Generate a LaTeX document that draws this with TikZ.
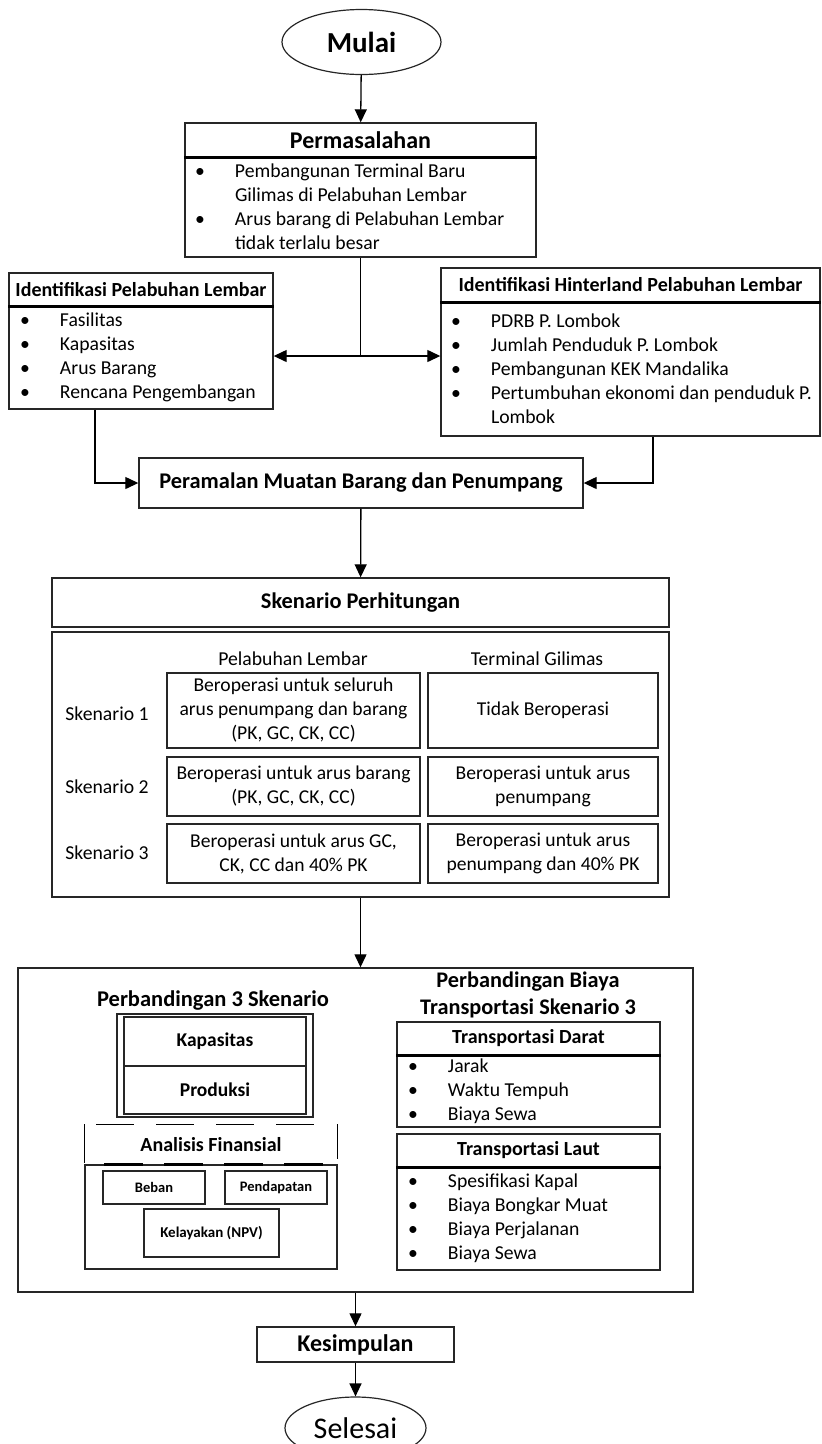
\documentclass[tikz,border=0pt]{standalone}
\usepackage{fontspec}
\setmainfont{Carlito}
\usetikzlibrary{shapes.geometric,arrows.meta,calc,positioning}

\newcommand{\itm}[1]{\makebox[40pt][l]{\textbullet}#1}
\newcommand{\cnt}[1]{\hspace*{40pt}#1}

\begin{document}
\begin{tikzpicture}[%
x=1pt, y=-1pt,
>={Triangle[width=12pt,length=13pt]},
line width=1.4pt,
box/.style={draw=black!85, rectangle, inner sep=0pt, align=center},
hdr/.style={box, font=\fontsize{22.4}{26}\selectfont\bfseries},
smallhdr/.style={box, font=\fontsize{20}{24}\selectfont\bfseries},
cell/.style={box, font=\fontsize{19.6}{24}\selectfont},
tinybox/.style={box, line width=1.2pt, font=\fontsize{14.5}{16}\selectfont\bfseries},
txt/.style={inner sep=0pt, align=center, font=\fontsize{19.7}{24}\selectfont},
items/.style={inner sep=0pt, align=left, anchor=west, font=\fontsize{19.7}{24}\selectfont},
term/.style={ellipse, draw=black!85, line width=1.2pt, inner sep=0pt},
divline/.style={line width=3pt, black},
conn/.style={->, line width=1.3pt}
]
\useasboundingbox (0,0) rectangle (822,1444);

% start + problem
\node[term, minimum width=159pt, minimum height=65pt, font=\fontsize{29}{30}\selectfont\bfseries] (mulai) at (361.5,42) {Mulai};
\node[hdr, minimum width=351pt, minimum height=34pt, font=\fontsize{24}{26}\selectfont\bfseries] (permhead) at (360.5,140) {Permasalahan};
\node[box, minimum width=351pt, minimum height=100pt] (permbody) at (360.5,207) {};
\node[items] (permitems) at ([xshift=10pt]permbody.west) {\itm{Pembangunan Terminal Baru}\\ \cnt{Gilimas di Pelabuhan Lembar}\\ \itm{Arus barang di Pelabuhan Lembar}\\ \cnt{tidak terlalu besar}};
\draw[divline] (permhead.south west) -- (permhead.south east);

% identification boxes
\node[smallhdr, minimum width=264pt, minimum height=33pt] (idlhead) at (141,289.5) {Identifikasi Pelabuhan Lembar};
\node[box, minimum width=264pt, minimum height=103pt] (idlbody) at (141,357.5) {};
\node[items] (idlitems) at ([xshift=11pt]idlbody.west) {\itm{Fasilitas}\\ \itm{Kapasitas}\\ \itm{Arus Barang}\\ \itm{Rencana Pengembangan}};
\draw[divline] (idlhead.south west) -- (idlhead.south east);

\node[smallhdr, minimum width=379pt, minimum height=34pt] (idhhead) at (630.5,285) {Identifikasi Hinterland Pelabuhan Lembar};
\node[box, minimum width=379pt, minimum height=134pt] (idhbody) at (630.5,369) {};
\node[items] (idhitems) at ([xshift=10pt]idhbody.west) {\itm{PDRB P. Lombok}\\ \itm{Jumlah Penduduk P. Lombok}\\ \itm{Pembangunan KEK Mandalika}\\ \itm{Pertumbuhan ekonomi dan penduduk P.}\\ \cnt{Lombok}};
\draw[divline] (idhhead.south west) -- (idhhead.south east);

\coordinate (split) at (360.5,356);
\draw[conn] (mulai) -- (permhead);
\draw[line width=1.3pt] (permbody.south) -- (split);
\draw[conn] (split) -- (split -| idlbody.east);
\draw[conn] (split) -- (split -| idhbody.west);

% forecast
\node[hdr, minimum width=444pt, minimum height=50pt] (peramalan) at (361,483) {Peramalan Muatan Barang dan Penumpang};
\draw[conn] ([xshift=-46pt]idlbody.south) |- (peramalan.west);
\draw[conn] ([xshift=22.5pt]idhbody.south) |- (peramalan.east);

% scenarios
\node[hdr, minimum width=617pt, minimum height=49pt] (skenhead) at (360.5,602.5) {Skenario Perhitungan};
\node[box, minimum width=617pt, minimum height=265pt] (skenbody) at (360.5,764.5) {};
\draw[conn] (peramalan) -- (skenhead);

\node[txt] (pelab) at (293,659) {Pelabuhan Lembar};
\node[txt] (termg) at (537,659) {Terminal Gilimas};
\node[txt] (sk1) at (107,714) {Skenario 1};
\node[txt] (sk2) at (107,787) {Skenario 2};
\node[txt] (sk3) at (107,853) {Skenario 3};

\node[cell, minimum width=253pt, minimum height=75pt] (l1) at (293.5,710.5) {Beroperasi untuk seluruh\\arus penumpang dan barang\\(PK, GC, CK, CC)};
\node[cell, minimum width=253pt, minimum height=59pt] (l2) at (293.5,786.5) {Beroperasi untuk arus barang\\(PK, GC, CK, CC)};
\node[cell, minimum width=253pt, minimum height=59pt] (l3) at (293.5,853.5) {Beroperasi untuk arus  GC,\\CK, CC dan 40\% PK};
\node[cell, minimum width=230pt, minimum height=75pt] (r1) at (543,710.5) {Tidak Beroperasi};
\node[cell, minimum width=230pt, minimum height=59pt] (r2) at (543,786.5) {Beroperasi untuk arus\\penumpang};
\node[cell, minimum width=230pt, minimum height=59pt] (r3) at (543,853.5) {Beroperasi untuk arus\\penumpang dan 40\% PK};

% comparison
\node[box, minimum width=675pt, minimum height=324pt] (bigbox) at (355.5,1130) {};
\draw[conn] (skenbody.south) -- (skenbody.south |- bigbox.north);

\node[txt, font=\fontsize{22.5}{26}\selectfont\bfseries] (cmp3) at (213,1000) {Perbandingan 3 Skenario};
\node[box, minimum width=196pt, minimum height=103pt] (kapouter) at (215,1065.5) {};
\node[box, minimum width=182pt, minimum height=49pt, font=\fontsize{19.5}{22}\selectfont\bfseries] (kap) at (215,1041.5) {Kapasitas};
\node[box, minimum width=182pt, minimum height=48pt, font=\fontsize{19.5}{22}\selectfont\bfseries] (prod) at (215,1090) {Produksi};

\node[inner sep=0pt, minimum width=252pt, minimum height=40pt, font=\fontsize{20}{22}\selectfont\bfseries] (anahead) at (211,1145) {Analisis Finansial};
\draw[dash pattern=on 38pt off 22pt] ([xshift=12pt]anahead.north west) -- ([xshift=-24pt]anahead.north east);
\draw ([yshift=3pt]anahead.south west) -- (anahead.north west);
\draw ([yshift=7pt]anahead.south east) -- (anahead.north east);
\node[box, minimum width=252pt, minimum height=104pt] (anabody) at (211,1217) {};
\draw[line width=2.4pt, dash pattern=on 39pt off 21pt] ([xshift=20pt]anabody.north west) -- ([xshift=-10pt]anabody.north east);
\node[tinybox, minimum width=102pt, minimum height=33pt] (beban) at (154,1187.5) {Beban};
\node[tinybox, minimum width=102pt, minimum height=33pt] (pendapatan) at (276,1187.5) {Pendapatan};
\node[tinybox, minimum width=135pt, minimum height=48pt, font=\fontsize{15}{16}\selectfont\bfseries] (npv) at (211.5,1233) {Kelayakan (NPV)};

\node[txt, font=\fontsize{22.3}{27}\selectfont\bfseries] (cmpcost) at (528,995) {Perbandingan Biaya\\Transportasi Skenario 3};
\node[smallhdr, minimum width=263pt, minimum height=33pt] (darhead) at (528.5,1038.5) {Transportasi Darat};
\node[box, minimum width=263pt, minimum height=72pt] (darbody) at (528.5,1091) {};
\node[items] (daritems) at ([xshift=11pt]darbody.west) {\itm{Jarak}\\ \itm{Waktu Tempuh}\\ \itm{Biaya Sewa}};
\draw[divline] (darhead.south west) -- (darhead.south east);

\node[smallhdr, minimum width=263pt, minimum height=33pt] (lauthead) at (528.5,1150.5) {Transportasi Laut};
\node[box, minimum width=263pt, minimum height=103pt] (lautbody) at (528.5,1218.5) {};
\node[items] (lautitems) at ([xshift=11pt]lautbody.west) {\itm{Spesifikasi Kapal}\\ \itm{Biaya Bongkar Muat}\\ \itm{Biaya Perjalanan}\\ \itm{Biaya Sewa}};
\draw[divline] (lauthead.south west) -- (lauthead.south east);

% end
\node[hdr, minimum width=197pt, minimum height=35pt, font=\fontsize{24}{26}\selectfont\bfseries] (kesimpulan) at (355.5,1344.5) {Kesimpulan};
\node[term, minimum width=141pt, minimum height=62pt, font=\fontsize{30}{32}\selectfont] (selesai) at (355.5,1428) {Selesai};
\draw[conn] (bigbox) -- (kesimpulan);
\draw[conn] (kesimpulan) -- (selesai);
\end{tikzpicture}
\end{document}
